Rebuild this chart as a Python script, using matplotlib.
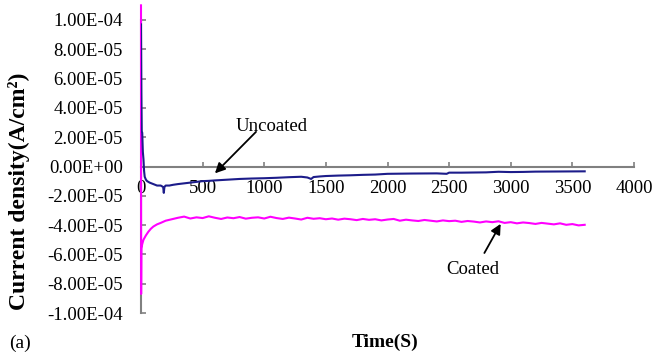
import matplotlib
matplotlib.use("Agg")
from matplotlib import pyplot as plt
from matplotlib.ticker import FuncFormatter
import numpy as np

# uncoated sample, time (s) and current density (1e-5 A/cm2)
t_uncoated = [0, 3, 6, 10, 15, 20, 25, 30, 40, 50, 70, 100, 130, 160, 180, 185,
              190, 200, 230, 260, 300, 350, 400, 450, 500, 550, 600, 700, 800, 900,
              1000, 1100, 1200, 1300, 1350, 1380, 1400, 1450, 1500, 1600, 1700,
              1800, 1900, 2000, 2200, 2400, 2480, 2500, 2600, 2800, 2900, 3000,
              3100, 3200, 3400, 3600]
i_uncoated = [9.7, 5.0, 2.4, 2.3, 1.0, 0.5, -0.3, -0.7, -0.9, -1.0, -1.1, -1.2,
              -1.3, -1.3, -1.4, -1.8, -1.4, -1.3, -1.3, -1.25, -1.2, -1.15, -1.1,
              -1.05, -1.0, -0.98, -0.95, -0.9, -0.85, -0.82, -0.8, -0.77, -0.73,
              -0.7, -0.75, -0.85, -0.72, -0.68, -0.65, -0.62, -0.6, -0.57, -0.55,
              -0.5, -0.48, -0.47, -0.5, -0.42, -0.42, -0.4, -0.36, -0.38, -0.37,
              -0.35, -0.34, -0.33]

# coated sample
t_coated = [0, 1, 3, 10, 20, 40, 60, 80, 100, 130, 160, 200, 250] + list(range(300, 3650, 50))
i_coated = [11.0, -8.7, -5.6, -5.3, -5.0, -4.7, -4.45, -4.25, -4.1, -3.95, -3.85, -3.7, -3.6,
            -3.50, -3.42, -3.55, -3.47, -3.52, -3.40, -3.50, -3.58, -3.48, -3.53,
            -3.45, -3.56, -3.50, -3.47, -3.55, -3.43, -3.52, -3.58, -3.49, -3.55,
            -3.62, -3.50, -3.57, -3.53, -3.60, -3.55, -3.63, -3.56, -3.60, -3.66,
            -3.58, -3.64, -3.60, -3.68, -3.62, -3.58, -3.70, -3.63, -3.68, -3.72,
            -3.65, -3.70, -3.75, -3.68, -3.73, -3.70, -3.78, -3.72, -3.76, -3.82,
            -3.75, -3.80, -3.74, -3.85, -3.80, -3.88, -3.82, -3.86, -3.92, -3.85,
            -3.90, -3.95, -3.88, -3.98, -3.93, -4.02, -3.98]

x_ticks = list(range(0, 4001, 500))
y_ticks = [-1e-4, -8e-5, -6e-5, -4e-5, -2e-5, 0, 2e-5, 4e-5, 6e-5, 8e-5, 1e-4]

plt.rcParams['font.family'] = ['Liberation Serif', 'DejaVu Serif']

fig = plt.figure(figsize=(6.66, 3.55), dpi=100)
ax = fig.add_axes([141/666, 1-313/355, 493/666, 293/355])

ax.plot(t_coated, np.array(i_coated)*1e-5, color='#ff00ff', lw=1.5, clip_on=False, zorder=3)
ax.plot(t_uncoated, np.array(i_uncoated)*1e-5, color='#1c1c8a', lw=1.5, zorder=4)

ax.set_xlim(0, 4000)
ax.set_ylim(-1e-4, 1e-4)
ax.set_xticks(x_ticks)
ax.set_yticks(y_ticks)
ax.yaxis.set_major_formatter(FuncFormatter(lambda v, p: f"{v:.2E}"))

for s in ['top', 'right']:
    ax.spines[s].set_visible(False)
ax.spines['bottom'].set_position(('data', 0))
for s in ['left', 'bottom']:
    ax.spines[s].set_color('#808080')
    ax.spines[s].set_linewidth(1.5)
ax.tick_params(axis='both', direction='in', color='#808080', length=3.5, width=1.2,
               labelsize=13.5)
ax.tick_params(axis='x', pad=10)
ax.tick_params(axis='y', pad=13)

ax.set_ylabel('Current density(A/cm²)', fontsize=17, fontweight='bold')
ax.yaxis.set_label_coords(-0.225, 0.415)
fig.text(385/666, 1-342/355, 'Time(S)', fontsize=14, fontweight='bold',
         ha='center', va='center')
fig.text(20/666, 1-343/355, '(a)', fontsize=14, ha='center', va='center')

arrow = dict(arrowstyle='-|>', color='black', lw=1.3, mutation_scale=15)
ax.annotate('', xy=(584, -0.6e-5), xytext=(949, 2.5e-5), arrowprops=arrow)
ax.text(1063, 2.73e-5, 'Uncoated', fontsize=13.5, ha='center', va='center')
ax.annotate('', xy=(2929, -3.75e-5), xytext=(2775, -6.07e-5), arrowprops=arrow)
ax.text(2694, -7.03e-5, 'Coated', fontsize=13.5, ha='center', va='center')

fig.savefig('out.png', dpi=100)
